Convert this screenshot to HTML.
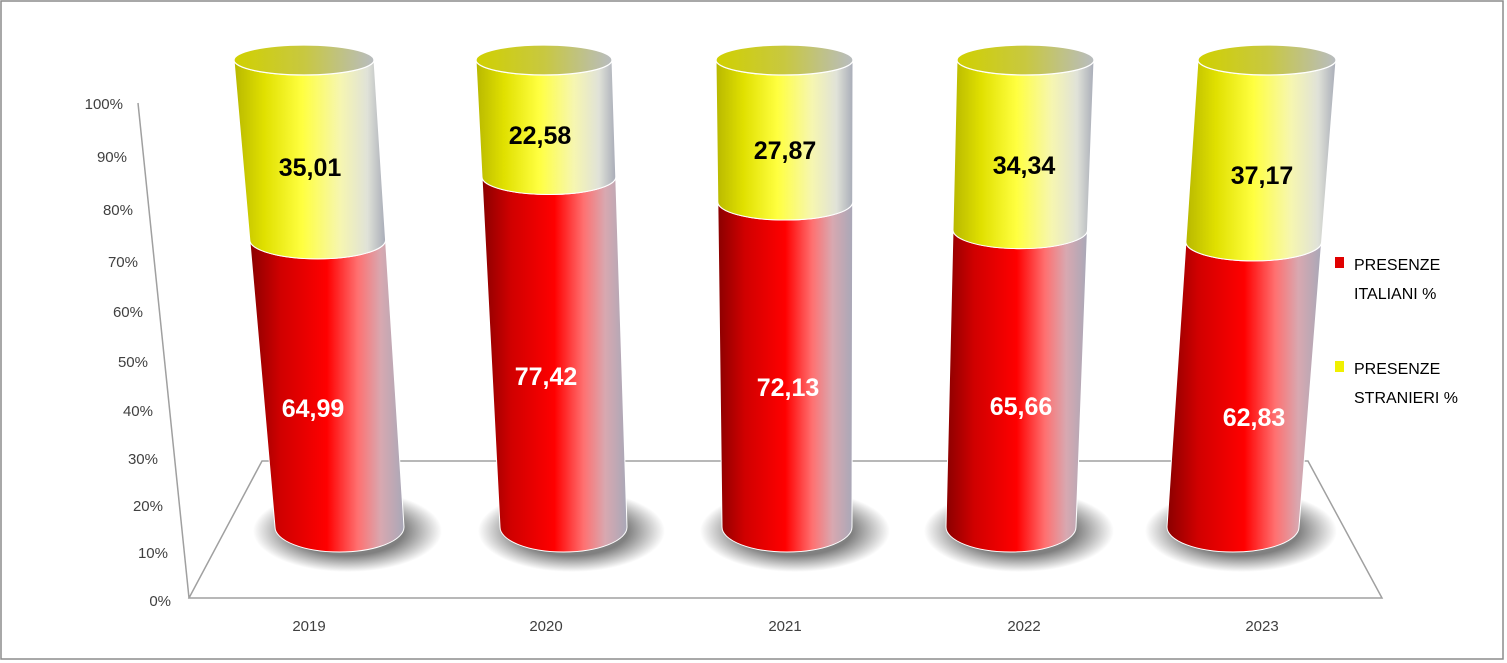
<!DOCTYPE html>
<html><head><meta charset="utf-8"><style>
html,body{margin:0;padding:0;background:#fff}
svg{display:block}
text{font-family:"Liberation Sans",sans-serif}
</style></head><body>
<svg id="s" width="1507" height="663" viewBox="0 0 1507 663" xmlns="http://www.w3.org/2000/svg">
<defs>
<linearGradient id="gr" x1="0" x2="1" y1="0" y2="0">
<stop offset="0" stop-color="#8a0000"/><stop offset="0.2" stop-color="#d00000"/><stop offset="0.5" stop-color="#ff0000"/><stop offset="0.7" stop-color="#ff7070"/><stop offset="0.85" stop-color="#d8a8b0"/><stop offset="1" stop-color="#a8a8b8"/>
</linearGradient>
<linearGradient id="gy" x1="0" x2="1" y1="0" y2="0">
<stop offset="0" stop-color="#b8b800"/><stop offset="0.2" stop-color="#e0e000"/><stop offset="0.45" stop-color="#ffff40"/><stop offset="0.7" stop-color="#f6f6b0"/><stop offset="0.88" stop-color="#e0e2d8"/><stop offset="1" stop-color="#a8acb8"/>
</linearGradient>
<linearGradient id="gt" x1="0" x2="1" y1="0" y2="0">
<stop offset="0" stop-color="#d0d000"/><stop offset="0.5" stop-color="#c8c840"/><stop offset="1" stop-color="#b8bcc0"/>
</linearGradient>
<radialGradient id="sh"><stop offset="0.6" stop-color="#808080"/><stop offset="1" stop-color="#808080" stop-opacity="0"/></radialGradient>
</defs>
<rect x="1" y="1" width="1502" height="658" fill="#fff" stroke="#8c8c8c" stroke-width="1.5"/>
<polygon points="262,461 1308,461 1382,598 189,598" fill="none" stroke="#a0a0a0" stroke-width="1.5"/>
<line x1="138" y1="103" x2="189" y2="598" stroke="#a0a0a0" stroke-width="1.5"/>
<g id="cyl"></g>
<g font-size="15" fill="#404040" text-anchor="end">
<text x="123" y="109">100%</text><text x="127" y="162">90%</text><text x="133" y="215">80%</text><text x="138" y="267">70%</text><text x="143" y="317">60%</text><text x="148" y="367">50%</text><text x="153" y="416">40%</text><text x="158" y="464">30%</text><text x="163" y="511">20%</text><text x="168" y="558">10%</text><text x="171" y="606">0%</text>
</g>
<g font-size="15" fill="#404040" text-anchor="middle">
<text x="309" y="631">2019</text><text x="546" y="631">2020</text><text x="785" y="631">2021</text><text x="1024" y="631">2022</text><text x="1262" y="631">2023</text>
</g>
<g font-size="25" font-weight="bold" text-anchor="middle">
<text x="310" y="176" fill="#000">35,01</text><text x="313" y="417" fill="#fff">64,99</text>
<text x="540" y="144" fill="#000">22,58</text><text x="546" y="385" fill="#fff">77,42</text>
<text x="785" y="159" fill="#000">27,87</text><text x="788" y="396" fill="#fff">72,13</text>
<text x="1024" y="174" fill="#000">34,34</text><text x="1021" y="415" fill="#fff">65,66</text>
<text x="1262" y="184" fill="#000">37,17</text><text x="1254" y="426" fill="#fff">62,83</text>
</g>
<rect x="1335" y="257" width="9" height="11" fill="#e00000"/>
<rect x="1335" y="361" width="9" height="11" fill="#f0f000"/>
<g font-size="16" fill="#000">
<text x="1354" y="270">PRESENZE</text><text x="1354" y="299">ITALIANI %</text>
<text x="1354" y="374">PRESENZE</text><text x="1354" y="403">STRANIERI %</text>
</g>
</svg>
<script>
var C=[[234,374,275,404,240],[476,612,500,627,177],[716,853,722,852,202],[957,1094,946,1076,230],[1198,1336,1167,1299,242]];
var yT=60,yB=527,ryT=15,ryB=25,g=document.getElementById('cyl'),h='';
C.forEach(function(c){
 function xl(y){return c[0]+(c[2]-c[0])*(y-yT)/(yB-yT);}
 function xr(y){return c[1]+(c[3]-c[1])*(y-yT)/(yB-yT);}
 function ry(y){return ryT+(ryB-ryT)*(y-yT)/(yB-yT);}
 var b=c[4],cxB=(c[2]+c[3])/2,rxB=(c[3]-c[2])/2;
 h+='<ellipse cx="'+(cxB+8)+'" cy="'+(yB+4)+'" rx="'+(rxB+30)+'" ry="'+(ryB+16)+'" fill="url(#sh)"/>';
 var rb=(xr(b)-xl(b))/2,rt=(c[1]-c[0])/2;
 h+='<path d="M'+xl(b)+','+b+' A'+rb+','+ry(b)+' 0 0 0 '+xr(b)+','+b+' L'+c[3]+','+yB+' A'+rxB+','+ryB+' 0 0 1 '+c[2]+','+yB+' Z" fill="url(#gr)" stroke="#fff" stroke-width="1"/>';
 h+='<path d="M'+c[0]+','+yT+' A'+rt+','+ryT+' 0 0 0 '+c[1]+','+yT+' L'+xr(b)+','+b+' A'+rb+','+ry(b)+' 0 0 1 '+xl(b)+','+b+' Z" fill="url(#gy)" stroke="#fff" stroke-width="1"/>';
 h+='<ellipse cx="'+(c[0]+c[1])/2+'" cy="'+yT+'" rx="'+rt+'" ry="'+ryT+'" fill="url(#gt)" stroke="#fff" stroke-width="1.2"/>';
});
g.innerHTML=h;
</script>
</body></html>
